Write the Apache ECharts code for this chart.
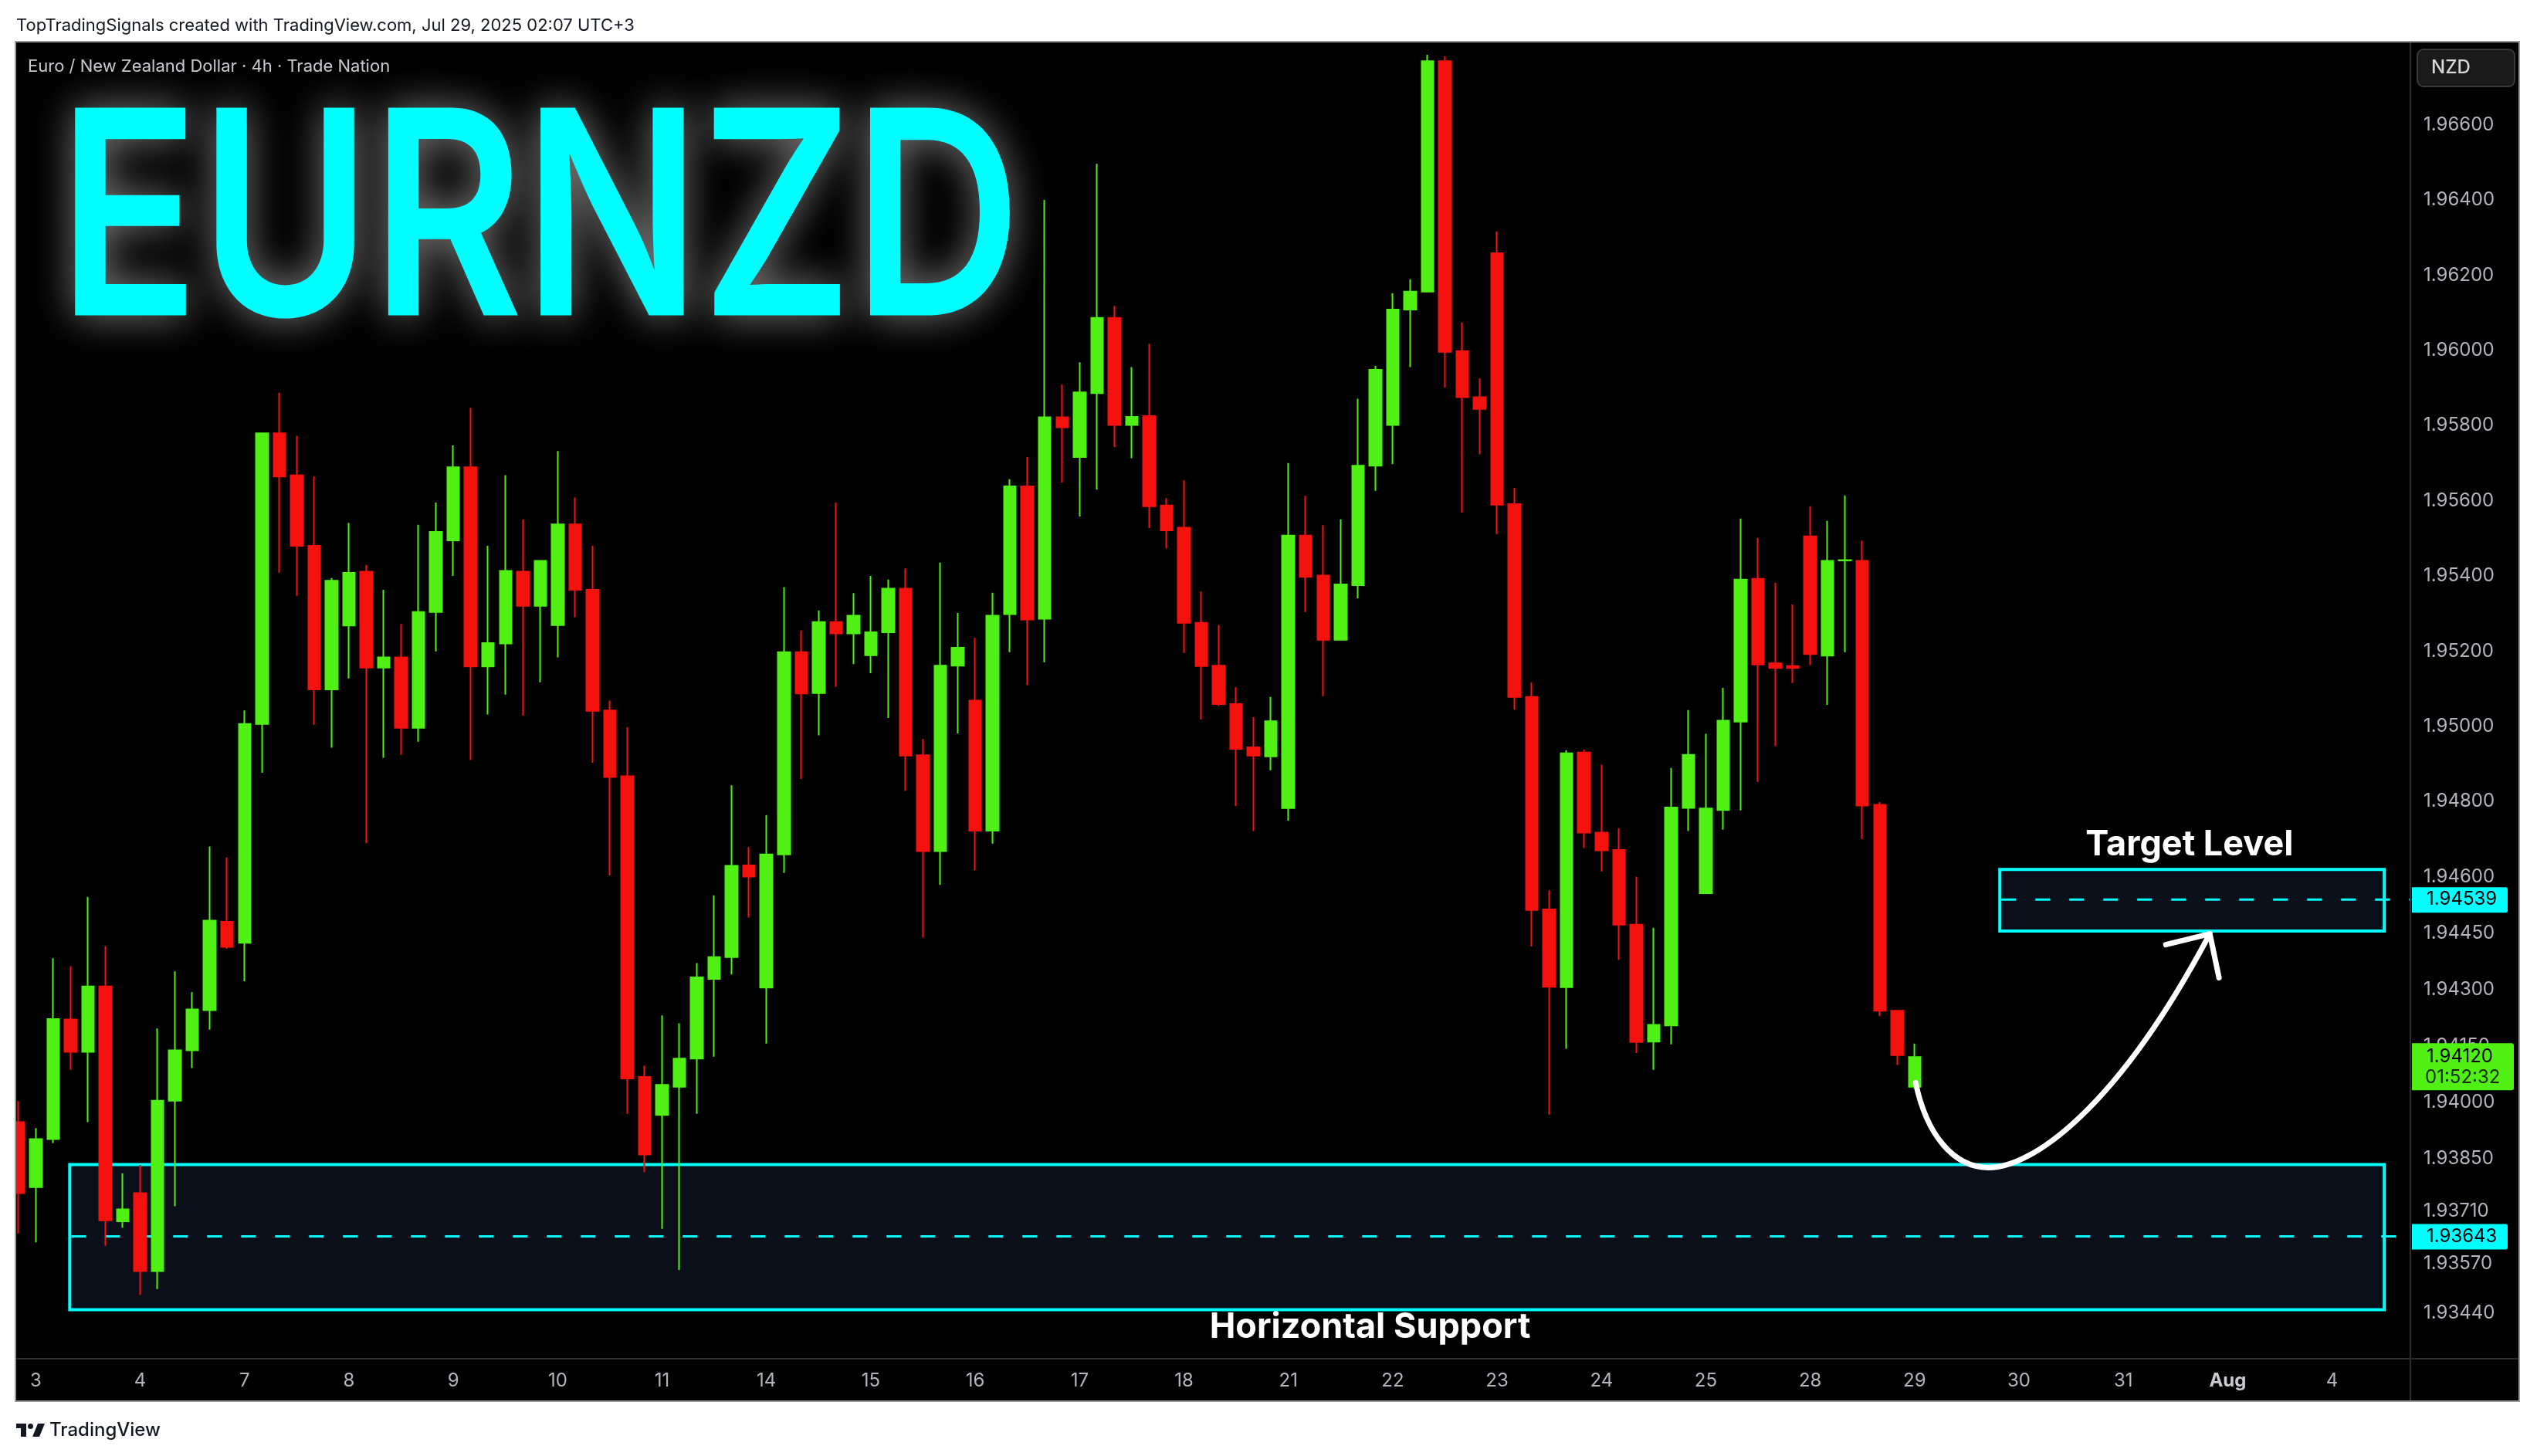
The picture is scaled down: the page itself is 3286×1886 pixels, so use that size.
<!DOCTYPE html>
<html><head><meta charset="utf-8">
<script src="https://cdn.jsdelivr.net/npm/echarts@6/dist/echarts.min.js"></script>
<style>html,body{margin:0;padding:0;background:#fff;}#c{width:3286px;height:1886px;}</style>
</head><body><div id="c"></div>
<script>
// ---------------- data ----------------
const tradingDays = ['Jul 2','Jul 3','Jul 4','Jul 7','Jul 8','Jul 9','Jul 10','Jul 11','Jul 14','Jul 15','Jul 16','Jul 17','Jul 18','Jul 21','Jul 22','Jul 23','Jul 24','Jul 25','Jul 28','Jul 29','Jul 30','Jul 31','Aug 1','Aug 4'];
const sessionHours = ['00:00','04:00','08:00','12:00','16:00','20:00'];
const dayTickLabels = {'Jul 3':'3','Jul 4':'4','Jul 7':'7','Jul 8':'8','Jul 9':'9','Jul 10':'10','Jul 11':'11','Jul 14':'14','Jul 15':'15','Jul 16':'16','Jul 17':'17','Jul 18':'18','Jul 21':'21','Jul 22':'22','Jul 23':'23','Jul 24':'24','Jul 25':'25','Jul 28':'28','Jul 29':'29','Jul 30':'30','Jul 31':'31','Aug 1':'Aug','Aug 4':'4'};
const priceTicks = [1.93440,1.93570,1.93710,1.93850,1.94000,1.94150,1.94300,1.94450,1.94600,1.94800,1.95000,1.95200,1.95400,1.95600,1.95800,1.96000,1.96200,1.96400,1.96600];

const opens = [1.93947,1.93774,1.93902,1.94220,1.94134,1.94308,1.93683,1.93758,1.93551,1.94004,
1.94138,1.94245,1.94480,1.94424,1.95006,1.95779,1.95667,1.95480,1.95098,1.95268,
1.95411,1.95156,1.95183,1.94996,1.95304,1.95494,1.95689,1.95159,1.95220,1.95411,
1.95320,1.95269,1.95537,1.95363,1.95042,1.94867,1.94067,1.93966,1.94041,1.94116,
1.94328,1.94386,1.94630,1.94305,1.94659,1.95197,1.95088,1.95277,1.95247,1.95189,
1.95250,1.95366,1.94923,1.94668,1.95161,1.95068,1.94722,1.95298,1.95638,1.95286,
1.95822,1.95716,1.95886,1.96086,1.95801,1.95825,1.95587,1.95528,1.95275,1.95161,
1.95059,1.94944,1.94920,1.94782,1.95507,1.95401,1.95230,1.95375,1.95693,1.95801,
1.96108,1.96156,1.96769,1.95998,1.95875,1.96258,1.95591,1.95078,1.94513,1.94306,
1.94930,1.94717,1.94671,1.94472,1.94161,1.94204,1.94783,1.94556,1.94777,1.95012,
1.95392,1.95167,1.95160,1.95505,1.95188,1.95441,1.95440,1.94791,1.94243,1.94041];
const closes = [1.93758,1.93902,1.94221,1.94134,1.94308,1.93686,1.93715,1.93551,1.94004,1.94138,
1.94247,1.94483,1.94413,1.95006,1.95779,1.95664,1.95480,1.95098,1.95387,1.95408,
1.95156,1.95183,1.94996,1.95304,1.95517,1.95689,1.95159,1.95221,1.95413,1.95320,
1.95440,1.95537,1.95363,1.95041,1.94865,1.94063,1.93861,1.94046,1.94116,1.94332,
1.94386,1.94629,1.94600,1.94659,1.95197,1.95087,1.95277,1.95247,1.95294,1.95250,
1.95366,1.94922,1.94668,1.95161,1.95209,1.94722,1.95294,1.95638,1.95284,1.95822,
1.95795,1.95888,1.96086,1.95801,1.95823,1.95585,1.95521,1.95275,1.95160,1.95059,
1.94940,1.94922,1.95013,1.95507,1.95397,1.95230,1.95377,1.95693,1.95948,1.96108,
1.96156,1.96769,1.95996,1.95875,1.95844,1.95589,1.95078,1.94511,1.94307,1.94928,
1.94717,1.94670,1.94472,1.94160,1.94206,1.94784,1.94924,1.94781,1.95015,1.95390,
1.95164,1.95155,1.95155,1.95192,1.95440,1.95442,1.94789,1.94243,1.94125,1.94120];
const lows = [1.93651,1.93627,1.93891,1.94086,1.93947,1.93618,1.93666,1.93487,1.93503,1.93723,
1.94091,1.94193,1.94408,1.94322,1.94876,1.95408,1.95347,1.95004,1.94943,1.95127,
1.94689,1.94916,1.94924,1.94959,1.95199,1.95400,1.94910,1.95031,1.95084,1.95028,
1.95117,1.95183,1.95290,1.94903,1.94603,1.93969,1.93814,1.93663,1.93554,1.93969,
1.94121,1.94340,1.94491,1.94156,1.94610,1.94860,1.94976,1.95105,1.95165,1.95141,
1.95022,1.94828,1.94438,1.94578,1.94981,1.94617,1.94688,1.95197,1.95109,1.95170,
1.95648,1.95558,1.95629,1.95742,1.95713,1.95527,1.95473,1.95195,1.95018,1.95054,
1.94788,1.94721,1.94883,1.94749,1.95304,1.95080,1.95228,1.95340,1.95626,1.95697,
1.95955,1.96154,1.95901,1.95568,1.95723,1.95511,1.95044,1.94414,1.93967,1.94142,
1.94676,1.94614,1.94379,1.94131,1.94086,1.94154,1.94721,1.94556,1.94725,1.94776,
1.94852,1.94947,1.95115,1.95162,1.95057,1.95197,1.94700,1.94229,1.94099,1.94036];
const highs = [1.94003,1.93931,1.94383,1.94362,1.94546,1.94415,1.93811,1.93833,1.94196,1.94348,
1.94293,1.94680,1.94651,1.95042,1.95780,1.95887,1.95772,1.95664,1.95394,1.95541,
1.95429,1.95363,1.95272,1.95536,1.95595,1.95747,1.95847,1.95480,1.95668,1.95550,
1.95442,1.95732,1.95608,1.95480,1.95068,1.94998,1.94097,1.94231,1.94210,1.94370,
1.94550,1.94843,1.94678,1.94764,1.95370,1.95255,1.95308,1.95595,1.95354,1.95400,
1.95390,1.95420,1.94966,1.95435,1.95301,1.95235,1.95355,1.95657,1.95716,1.96400,
1.95909,1.95968,1.96496,1.96118,1.95955,1.96017,1.95606,1.95654,1.95358,1.95269,
1.95104,1.95024,1.95078,1.95700,1.95613,1.95535,1.95550,1.95871,1.95959,1.96152,
1.96189,1.96786,1.96782,1.96074,1.95925,1.96316,1.95634,1.95117,1.94563,1.94936,
1.94938,1.94897,1.94729,1.94600,1.94464,1.94889,1.95043,1.94980,1.95102,1.95552,
1.95501,1.95382,1.95324,1.95585,1.95546,1.95614,1.95493,1.94798,1.94243,1.94156];

// annotation values (price levels and candle-index spans)
const supportZone = [1.93448, 1.93834];
const supportLevel = 1.93643;
const supportSpan = [2.95, 136.0];
const targetZone = [1.94455, 1.94619];
const targetLevel = 1.94539;
const targetSpan = [113.9, 136.0];
const lastPrice = 1.94120;
const countdown = '01:52:32';
const targetLabelAt = [124.8, 1.94685];
const supportLabelAt = [77.7, 1.93400];
// curved arrow: start, then cubic segments [c1, c2, end]  (candle index, price)
const arrowStart = [109.06, 1.94052];
const arrowCurves = [
  [[109.68, 1.93914], [111.23, 1.93826], [113.28, 1.93826]],
  [[115.67, 1.93826], [120.56, 1.93976], [125.97, 1.94448]]
];
const arrowHead = [[123.44, 1.94419], [125.97, 1.94448], [126.50, 1.94331]];

// ---------------- build ----------------
const categories = [];
tradingDays.forEach(d => sessionHours.forEach(h => categories.push(d + ' ' + h)));
const cats = categories.slice(5, 5 + 138);
const candleData = opens.map((o, i) => [o, closes[i], lows[i], highs[i]]);

const FONT = 'Inter, "Noto Sans", Roboto, sans-serif';
const UP = '#50f014', DOWN = '#f5120e', CYAN = '#00ffff';
const Y_MIN = 1.933177, Y_MAX = 1.968207;
const FRAME = {l: 20, t: 54, r: 3263, b: 1815};
const AXIS_X = 3122, TIME_Y = 1760;

const chart = echarts.init(document.getElementById('c'), null, {renderer: 'canvas', width: 3286, height: 1886});
chart.setOption({
  animation: false,
  backgroundColor: '#ffffff',
  grid: {left: 12.6, right: 3286 - AXIS_X, top: FRAME.t, bottom: 1886 - TIME_Y, show: false},
  xAxis: [{
    type: 'category', data: cats, boundaryGap: true,
    axisLine: {show: false}, axisTick: {show: false}, splitLine: {show: false},
    axisLabel: {
      interval: (i, v) => v.endsWith('00:00'),
      formatter: v => {
        const day = v.slice(0, v.lastIndexOf(' '));
        const t = dayTickLabels[day] || '';
        return t === 'Aug' ? '{b|Aug}' : t;
      },
      color: '#b2b5be', fontSize: 24, fontFamily: FONT, margin: 17,
      rich: {b: {fontWeight: 'bold', color: '#c9cbd1', fontSize: 24, fontFamily: FONT}}
    }
  }, {type: 'value', min: -0.5, max: 137.5, show: false}],
  yAxis: {
    type: 'value', position: 'right', min: Y_MIN, max: Y_MAX,
    axisLine: {show: false}, axisTick: {show: false}, splitLine: {show: false},
    axisLabel: {customValues: priceTicks, formatter: v => v.toFixed(5), color: '#b2b5be', fontSize: 24, fontFamily: FONT, margin: 17}
  },
  series: [{
    type: 'candlestick', xAxisIndex: 0, yAxisIndex: 0, data: candleData, barWidth: 16,
    itemStyle: {color: UP, color0: DOWN, borderColor: UP, borderColor0: DOWN, borderWidth: 2}
  }]
});

const xp = v => chart.convertToPixel({xAxisIndex: 1}, v);
const yp = v => chart.convertToPixel({yAxisIndex: 0}, v);
const pt = p => [xp(p[0]), yp(p[1])];

// title measurement
const cv = document.createElement('canvas').getContext('2d');
const TW = 600;
cv.font = `${TW} 100px Inter`; cv.textBaseline = 'alphabetic';
const capRatio = cv.measureText('E').actualBoundingBoxAscent / 100;
const titleSize = 270 / capRatio;
cv.font = `${TW} ${titleSize}px Inter`; cv.textBaseline = 'middle';
const tm = cv.measureText('EURNZD');
const inkW = tm.actualBoundingBoxLeft + tm.actualBoundingBoxRight;
const sx = 1214 / inkW;

const g = [];
g.push({type: 'rect', z: -10, shape: {x: FRAME.l, y: FRAME.t, width: FRAME.r - FRAME.l, height: FRAME.b - FRAME.t}, style: {fill: '#000'}});
g.push({type: 'text', z: 1, x: 94 + sx * tm.actualBoundingBoxLeft, y: 137 + tm.actualBoundingBoxAscent, scaleX: sx,
  style: {text: 'EURNZD', font: `${TW} ${titleSize}px Inter`, fill: CYAN, align: 'left', verticalAlign: 'middle',
    textShadowColor: 'rgba(255,255,255,0.5)', textShadowBlur: 52}});
g.push({type: 'text', z: 1, x: 36, y: 86, style: {text: 'Euro / New Zealand Dollar · 4h · Trade Nation', font: `400 22px ${FONT}`, fill: '#c8cad0', align: 'left', verticalAlign: 'middle'}});

function zone(span, rng, level) {
  const x0 = xp(span[0]), x1 = xp(span[1]);
  const yT = yp(rng[1]), yB = yp(rng[0]);
  g.push({type: 'rect', z: 1, shape: {x: x0, y: yT, width: x1 - x0, height: yB - yT}, style: {fill: '#0a0f1a', stroke: CYAN, lineWidth: 4}});
  const yl = yp(level);
  g.push({type: 'line', z: 1, shape: {x1: x0 + 2, y1: yl, x2: AXIS_X, y2: yl}, style: {stroke: CYAN, lineWidth: 3, lineDash: [19, 25]}});
}
zone(supportSpan, supportZone, supportLevel);
zone(targetSpan, targetZone, targetLevel);

g.push({type: 'text', z: 5, x: xp(targetLabelAt[0]), y: yp(targetLabelAt[1]), style: {text: 'Target Level', font: `700 45px ${FONT}`, fill: '#ffffff', align: 'center', verticalAlign: 'middle'}});
g.push({type: 'text', z: 5, x: xp(supportLabelAt[0]), y: yp(supportLabelAt[1]), style: {text: 'Horizontal Support', font: `700 45px ${FONT}`, fill: '#ffffff', align: 'center', verticalAlign: 'middle'}});

// arrow
let prev = pt(arrowStart);
arrowCurves.forEach(c => {
  const c1 = pt(c[0]), c2 = pt(c[1]), e = pt(c[2]);
  g.push({type: 'bezierCurve', z: 5, shape: {x1: prev[0], y1: prev[1], cpx1: c1[0], cpy1: c1[1], cpx2: c2[0], cpy2: c2[1], x2: e[0], y2: e[1]},
    style: {fill: 'none', stroke: '#ffffff', lineWidth: 7, lineCap: 'round'}});
  prev = e;
});
g.push({type: 'polyline', z: 5, shape: {points: arrowHead.map(pt)}, style: {fill: 'none', stroke: '#ffffff', lineWidth: 7, lineCap: 'round', lineJoin: 'round'}});

// frame chrome
g.push({type: 'rect', z: 20, shape: {x: 0, y: FRAME.t - 2, width: FRAME.l, height: FRAME.b - FRAME.t + 4}, style: {fill: '#fff'}});
g.push({type: 'line', z: 21, shape: {x1: AXIS_X, y1: FRAME.t, x2: AXIS_X, y2: FRAME.b}, style: {stroke: '#2e2e2e', lineWidth: 2}});
g.push({type: 'line', z: 21, shape: {x1: FRAME.l, y1: TIME_Y, x2: FRAME.r, y2: TIME_Y}, style: {stroke: '#2e2e2e', lineWidth: 2}});
g.push({type: 'rect', z: 21, shape: {x: FRAME.l, y: FRAME.t, width: FRAME.r - FRAME.l, height: FRAME.b - FRAME.t}, style: {fill: 'none', stroke: '#9a9a9a', lineWidth: 2}});
g.push({type: 'rect', z: 21, shape: {x: 3131, y: 64, width: 126, height: 48, r: 8}, style: {fill: '#1a1a1a', stroke: '#3a3a3a', lineWidth: 2}});
g.push({type: 'text', z: 22, x: 3149, y: 88, style: {text: 'NZD', font: `500 24px ${FONT}`, fill: '#d8d8d8', align: 'left', verticalAlign: 'middle'}});

// price tags
function tag(v, bg, w) {
  const y = yp(v);
  g.push({type: 'rect', z: 22, shape: {x: AXIS_X + 2, y: y - 16, width: w, height: 33, r: [0, 3, 3, 0]}, style: {fill: bg}});
  g.push({type: 'text', z: 23, x: AXIS_X + 21, y: y, style: {text: v.toFixed(5), font: `400 24px ${FONT}`, fill: '#000', align: 'left', verticalAlign: 'middle'}});
}
tag(targetLevel, CYAN, 124);
tag(supportLevel, CYAN, 124);
(function () {
  const y = yp(lastPrice);
  g.push({type: 'rect', z: 22, shape: {x: AXIS_X + 2, y: y - 18, width: 132, height: 61, r: [0, 3, 3, 0]}, style: {fill: UP}});
  g.push({type: 'text', z: 23, x: AXIS_X + 21, y: y, style: {text: lastPrice.toFixed(5), font: `400 24px ${FONT}`, fill: '#000', align: 'left', verticalAlign: 'middle'}});
  g.push({type: 'text', z: 23, x: AXIS_X + 19, y: y + 27, style: {text: countdown, font: `400 24px ${FONT}`, fill: '#0d2a05', align: 'left', verticalAlign: 'middle'}});
})();

// header and footer
g.push({type: 'text', z: 21, x: 21, y: 33, style: {text: 'TopTradingSignals created with TradingView.com, Jul 29, 2025 02:07 UTC+3', font: `400 22px ${FONT}`, fill: '#131722', align: 'left', verticalAlign: 'middle'}});
g.push({type: 'rect', z: 21, shape: {x: 21, y: 1844, width: 13, height: 6}, style: {fill: '#131722'}});
g.push({type: 'rect', z: 21, shape: {x: 27, y: 1844, width: 7, height: 17}, style: {fill: '#131722'}});
g.push({type: 'circle', z: 21, shape: {cx: 39.5, cy: 1847.5, r: 3.5}, style: {fill: '#131722'}});
g.push({type: 'polygon', z: 21, shape: {points: [[49, 1844], [58, 1844], [51, 1861], [42, 1861]]}, style: {fill: '#131722'}});
g.push({type: 'text', z: 21, x: 64, y: 1853, style: {text: 'TradingView', font: `500 24px ${FONT}`, fill: '#131722', align: 'left', verticalAlign: 'middle'}});

chart.setOption({graphic: {elements: g}});
</script></body></html>
